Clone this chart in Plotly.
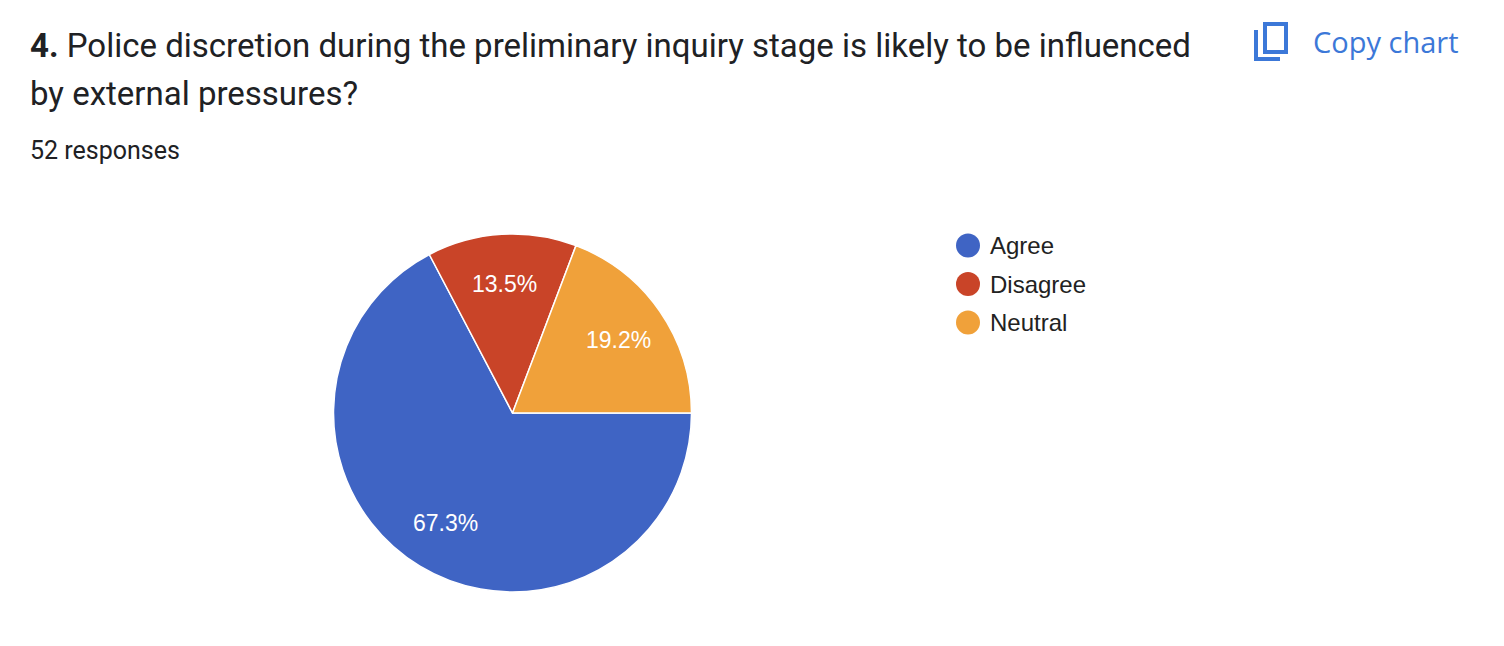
import math
import plotly.graph_objects as go

# --- data ---
categories = ['Agree', 'Disagree', 'Neutral']
counts = [35, 7, 10]
colors = ['#3f64c4', '#c94428', '#f0a13a']

title_lines = ['<b>4.</b> Police discretion during the preliminary inquiry stage is likely to be influenced',
               'by external pressures?']
n_responses = sum(counts)

W, H = 1504, 646
OFF = 8  # page body margin


def px(x):
    return (x - OFF) / W


def py(y):
    return 1 - (y - OFF) / H


# pie geometry in page pixels
cx, cy, r = 512.5, 413, 179

fig = go.Figure()

fig.add_trace(go.Pie(
    labels=categories, values=counts,
    marker=dict(colors=colors, line=dict(color='white', width=1.5)),
    sort=False, direction='clockwise', rotation=90,
    textinfo='none',
    domain=dict(x=[px(cx - r), px(cx + r)], y=[py(cy + r), py(cy - r)]),
    showlegend=False, hoverinfo='label+percent',
))

# slice labels placed along each slice bisector
total = sum(counts)
start = 0.0
for v in counts:
    mid = (start + v / 2) / total * 2 * math.pi
    ang = -mid  # clockwise from 3 o'clock
    lx = cx + 0.72 * r * math.cos(ang)
    ly = cy - 0.72 * r * math.sin(ang)
    fig.add_annotation(x=px(lx), y=py(ly), xref='paper', yref='paper', xanchor='center', yanchor='middle',
                       text=f'{v / total * 100:.1f}%', showarrow=False,
                       font=dict(family='Liberation Sans, Arial', size=23, color='white'))
    start += v

# --- title and response count ---
for line, ty in zip(title_lines, [45, 94]):
    fig.add_annotation(x=px(30), y=py(ty), xref='paper', yref='paper', xanchor='left', yanchor='middle',
                       text=line, showarrow=False, xshift=-2,
                       font=dict(family='Roboto', size=33, color='#202124'))
fig.add_annotation(x=px(30), y=py(150), xref='paper', yref='paper', xanchor='left', yanchor='middle',
                   text=f'{n_responses} responses', showarrow=False, xshift=-2,
                   font=dict(family='Roboto', size=25, color='#202124'))

# --- copy chart button ---
blue = '#3c78d8'
fig.add_annotation(x=px(1313), y=py(42), xref='paper', yref='paper', xanchor='left', yanchor='middle',
                   text='Copy chart', showarrow=False, xshift=-2,
                   font=dict(family='Open Sans', size=29, color=blue))
shapes = [
    dict(type='rect', xref='paper', yref='paper', x0=px(1265), x1=px(1286), y0=py(52), y1=py(24),
         line=dict(color=blue, width=4), fillcolor='rgba(0,0,0,0)'),
    dict(type='path', xref='paper', yref='paper',
         path=f'M {px(1256)},{py(30)} L {px(1256)},{py(59)} L {px(1280)},{py(59)}',
         line=dict(color=blue, width=4)),
]

# --- legend with round markers ---
leg_y0 = 245.5
leg_dy = 38.5
for i, (cat, col) in enumerate(zip(categories, colors)):
    ly = leg_y0 + i * leg_dy
    shapes.append(dict(type='circle', xref='paper', yref='paper',
                       x0=px(956), x1=px(980), y0=py(ly + 12), y1=py(ly - 12),
                       fillcolor=col, line=dict(width=0)))
    fig.add_annotation(x=px(990), y=py(ly), xref='paper', yref='paper', xanchor='left', yanchor='middle',
                       text=cat, showarrow=False, xshift=-2,
                       font=dict(family='Liberation Sans, Arial', size=24, color='#222222'))

fig.update_layout(
    width=W, height=H,
    margin=dict(l=0, r=0, t=0, b=0),
    paper_bgcolor='white', plot_bgcolor='white',
    shapes=shapes,
)

fig.write_html('out.html')
